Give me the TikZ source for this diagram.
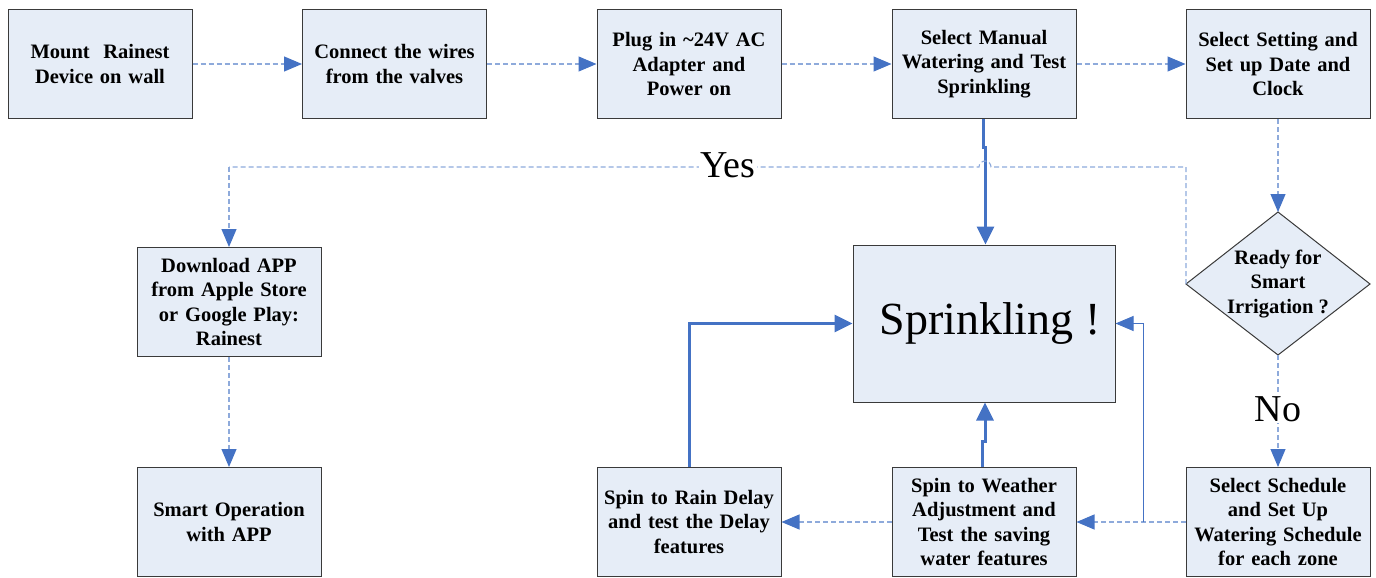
\documentclass[tikz,border=0pt]{standalone}
\usepackage{fontspec}
\setmainfont{Liberation Serif}
\usetikzlibrary{arrows.meta,calc}
\definecolor{boxfill}{HTML}{E6EDF7}
\definecolor{boxline}{HTML}{3A3A3A}
\definecolor{arrblue}{HTML}{4472C4}
\definecolor{dashblue}{HTML}{8EAADB}
\begin{document}
\begin{tikzpicture}[x=1pt,y=-1pt,
  box/.style={draw=boxline, line width=1pt, fill=boxfill, minimum width=184pt, minimum height=109pt,
    text width=178pt, align=center, inner sep=0pt, font=\fontsize{20.5}{24.5}\selectfont\bfseries},
  dflow/.style={draw=dashblue, line width=1.1pt, dash pattern=on 5pt off 3pt,
    -{Triangle[length=18pt,width=15pt,color=arrblue,fill=arrblue]}},
  dline/.style={draw=dashblue, line width=1.1pt, dash pattern=on 5pt off 3pt},
  sflow/.style={draw=arrblue, line width=3pt, -{Triangle[length=18pt,width=17pt]}},
  tflow/.style={draw=arrblue, line width=0.9pt, -{Triangle[length=18pt,width=15pt]}},
  lab/.style={font=\fontsize{38}{42}\selectfont, fill=white, inner sep=1pt}
]
\useasboundingbox (0,0) rectangle (1376,578);

% top row
\node[box] (b1) at (100,64) {Mount~ Rainest\\Device on wall};
\node[box] (b2) at (394.5,64) {Connect the wires\\from the valves};
\node[box] (b3) at (689,64) {Plug in \textasciitilde24V AC\\Adapter and\\Power on};
\node[box] (b4) at (984,64) {Select Manual\\Watering and Test\\Sprinkling};
\node[box] (b5) at (1278,64) {Select Setting and\\Set up Date and\\Clock};

% left column
\node[box] (dl) at (229,302) {Download APP\\from Apple Store\\or Google Play:\\Rainest};
\node[box] (so) at (229,522) {Smart Operation\\with APP};

% center
\node[draw=boxline, line width=1pt, fill=boxfill, minimum width=262pt, minimum height=157pt, inner sep=0pt] (sp) at (984,323.5) {};
\node[font=\fontsize{46}{50}\selectfont, inner sep=0pt] (spt) at (990,323.5) {Sprinkling !};

% bottom row
\node[box] (rd) at (689,522) {Spin to Rain Delay\\and test the Delay\\features};
\node[box] (sw) at (984,522) {Spin to Weather\\Adjustment and\\Test the saving\\water features};
\node[box] (ss) at (1278,522) {Select Schedule\\and Set Up\\Watering Schedule\\for each zone};

% decision diamond
\coordinate (dT) at (1278,212);
\coordinate (dR) at (1370,284);
\coordinate (dB) at (1278,355);
\coordinate (dL) at (1186,284);
\draw[boxline, line width=1pt, fill=boxfill] (dT) -- (dR) -- (dB) -- (dL) -- cycle;
\node[align=center, font=\fontsize{20.5}{24.5}\selectfont\bfseries] (dia) at (1278,284) {Ready for\\Smart\\Irrigation ?};

% top row flow
\draw[dflow] (b1.east) -- (b2.west);
\draw[dflow] (b2.east) -- (b3.west);
\draw[dflow] (b3.east) -- (b4.west);
\draw[dflow] (b4.east) -- (b5.west);
\draw[dflow] (b5.south) -- (dT);

% manual watering to sprinkling
\draw[sflow] ($(b4.south)+(-1,0)$) -- ++(0,28) -- ++(2.5,0) -- ($(sp.north)+(1.5,0)$);

% Yes branch with a hop
\coordinate (yc) at ($(dL |- 0,167)$);
\coordinate (hopR) at (991,167);
\coordinate (yl) at ($(dl.north |- 0,167)$);
\draw[dline] (dL) -- (yc) -- (hopR) arc (0:-180:6) -- (yl);
\draw[dflow] (yl) -- (dl.north);
\node[lab] (yes) at (728,165) {Yes};

% No branch
\draw[dflow] (dB) -- (ss.north);
\node[lab] (no) at (1278,409) {No};

% app
\draw[dflow] (dl.south) -- (so.north);

% bottom row flow
\draw[dflow] (ss.west) -- (sw.east);
\draw[dflow] (sw.west) -- (rd.east);
\coordinate (j) at (1143,522);
\draw[tflow] (j) -- (j |- sp.east) -- (sp.east);
\draw[sflow] ($(sw.north)+(-1.5,0)$) -- ++(0,-26) -- ++(2.5,0) -- ($(sp.south)+(1,0)$);
\draw[sflow] (rd.north) |- (sp.west);
\end{tikzpicture}
\end{document}
